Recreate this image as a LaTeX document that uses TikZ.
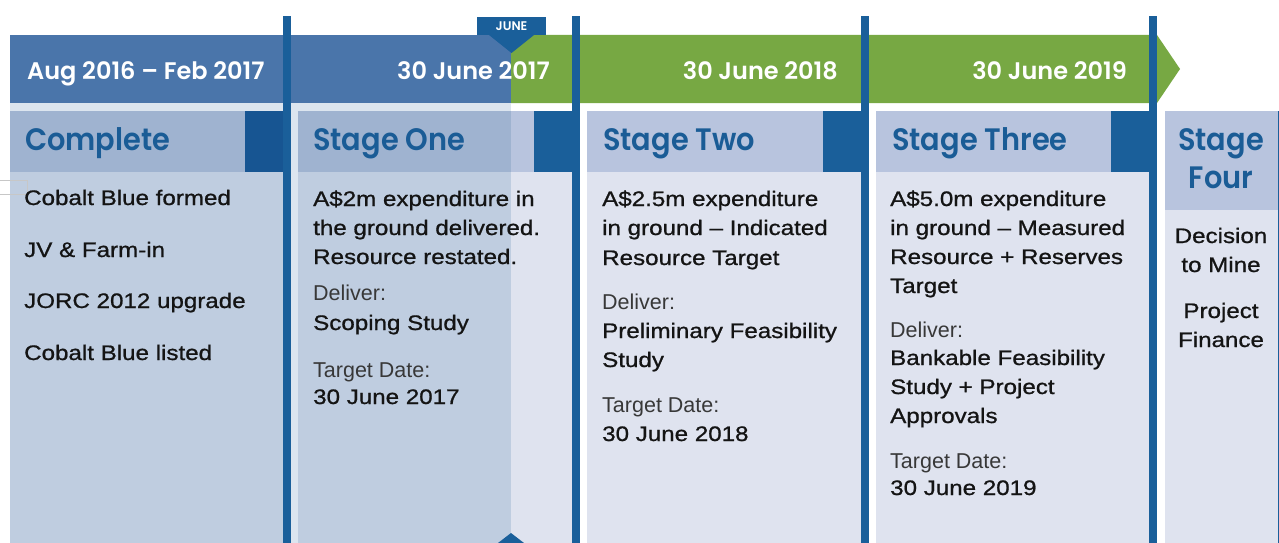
\documentclass[tikz,border=0pt]{standalone}
\usepackage{fontspec}
\setmainfont{Liberation Sans}
\newfontfamily\bodyfont{Liberation Sans}[FakeStretch=1.15,FakeBold=0.9]
\newfontfamily\lightfont{Liberation Sans}
\newfontfamily\poppinsfam{Poppins}[FakeStretch=0.93]
\newfontfamily\poppinsban{Poppins}
\IfFontExistsTF{Poppins SemiBold}{\newfontfamily\headfont{Poppins SemiBold}[FakeStretch=0.93]\newfontfamily\banfont{Poppins SemiBold}}{\newcommand\headfont{\poppinsfam\bfseries}\newcommand\banfont{\poppinsban\bfseries}}
\definecolor{bannerblue}{HTML}{4A75AA}
\definecolor{bannergreen}{HTML}{77A843}
\definecolor{dkblue}{HTML}{1A5F9A}
\definecolor{dkblueov}{HTML}{175592}
\definecolor{hdr}{HTML}{B8C4DE}
\definecolor{hdrov}{HTML}{9FB3D0}
\definecolor{bdy}{HTML}{DFE3EF}
\definecolor{bdyov}{HTML}{BFCDE0}
\definecolor{ovl}{HTML}{DCE5EF}
\definecolor{titleblue}{HTML}{1A5C96}
\begin{document}
\begin{tikzpicture}[x=1pt,y=-1pt,
  txt/.style={inner sep=0pt, anchor=base west},
  bodytxt/.style={txt, font=\bodyfont\fontsize{21}{21}\selectfont, text=black!92},
  lighttxt/.style={txt, font=\lightfont\fontsize{21.5}{21.5}\selectfont, text=black!78},
  centertxt/.style={bodytxt, anchor=base},
  titletxt/.style={txt, font=\headfont\fontsize{31}{31}\selectfont, text=titleblue},
  smalltitle/.style={titletxt, anchor=base},
  bantxt/.style={inner sep=0pt, anchor=base east, font=\banfont\fontsize{24}{24}\selectfont, text=white},
  marker/.style={fill=dkblue}
]
\useasboundingbox (0,0) rectangle (1279,543);
\fill[white] (0,0) rectangle (1279,543);

% overlay background (completed period)
\fill[ovl] (10,103) rectangle (511,543);
% Complete panel
\fill[hdrov] (10,111) rectangle (245,172);
\fill[dkblueov] (245,111) rectangle (283,172);
\fill[bdyov] (10,172) rectangle (283,543);
% Stage One panel
\fill[hdrov] (298,111) rectangle (511,172);
\fill[hdr] (511,111) rectangle (534,172);
\fill[dkblue] (534,111) rectangle (572,172);
\fill[bdyov] (298,172) rectangle (511,543);
\fill[bdy] (511,172) rectangle (572,543);
% Stage Two panel
\fill[hdr] (587,111) rectangle (823,172);
\fill[dkblue] (823,111) rectangle (861,172);
\fill[bdy] (587,172) rectangle (861,543);
% Stage Three panel
\fill[hdr] (876,111) rectangle (1111,172);
\fill[dkblue] (1111,111) rectangle (1149,172);
\fill[bdy] (876,172) rectangle (1149,543);
% Stage Four panel
\fill[hdr] (1165,111) rectangle (1279,210);
\fill[bdy] (1165,210) rectangle (1279,543);
\fill[dkblue] (1277.8,111) rectangle (1279,543);

% banner
\fill[bannerblue] (10,35) rectangle (511,103);
\fill[bannergreen] (511,35) -- (1157,35) -- (1180,69) -- (1157,103) -- (511,103) -- cycle;

% vertical divider lines
\foreach \x in {283,572,861,1149} \fill[dkblue] (\x,16) rectangle ++(8,527);

% JUNE tab and markers
\fill[marker] (477,17) rectangle (546,35);
\fill[marker] (489,35) -- (534,35) -- (511.5,53) -- cycle;
\node[font=\banfont\fontsize{12.5}{12.5}\selectfont, text=white, inner sep=0pt, anchor=base] (june) at (511.5,31) {JUNE};
\fill[marker] (498,543) -- (511,533) -- (524,543) -- cycle;

% stray outline at left
\draw[black!22, line width=1pt] (-1,180.5) -- (27.5,180.5) -- (27.5,194.5) -- (-1,194.5);

% banner texts
\node[bantxt, anchor=base west] (b0) at (27,80) {Aug 2016 – Feb 2017};
\node[bantxt] (b1) at (550,80) {30 June 2017};
\node[bantxt] (b2) at (838,80) {30 June 2018};
\node[bantxt] (b3) at (1127,80) {30 June 2019};

% titles
\node[titletxt] (t0) at (25,150) {Complete};
\node[titletxt] (t1) at (313,150) {Stage One};
\node[titletxt] (t2) at (603,150) {Stage Two};
\node[titletxt] (t3) at (892,150) {Stage Three};
\node[smalltitle] (t4a) at (1221,150) {Stage};
\node[smalltitle] (t4b) at (1221,188) {Four};

% Complete
\node[bodytxt] (c1) at (24,205) {Cobalt Blue formed};
\node[bodytxt] (c2) at (24,257) {JV \& Farm-in};
\node[bodytxt] (c3) at (24,308) {JORC 2012 upgrade};
\node[bodytxt] (c4) at (24,360) {Cobalt Blue listed};

% Stage One
\node[bodytxt] (s1a) at (313,206) {A\$2m expenditure in};
\node[bodytxt] (s1b) at (313,235) {the ground delivered.};
\node[bodytxt] (s1c) at (313,264) {Resource restated.};
\node[lighttxt] (s1d) at (313,300) {Deliver:};
\node[bodytxt] (s1e) at (313,330) {Scoping Study};
\node[lighttxt] (s1f) at (313,377) {Target Date:};
\node[bodytxt] (s1g) at (313,404) {30 June 2017};

% Stage Two
\node[bodytxt] (s2a) at (602,206) {A\$2.5m expenditure};
\node[bodytxt] (s2b) at (602,235) {in ground – Indicated};
\node[bodytxt] (s2c) at (602,265) {Resource Target};
\node[lighttxt] (s2d) at (602,309) {Deliver:};
\node[bodytxt] (s2e) at (602,338) {Preliminary Feasibility};
\node[bodytxt] (s2f) at (602,367) {Study};
\node[lighttxt] (s2g) at (602,412) {Target Date:};
\node[bodytxt] (s2h) at (602,441) {30 June 2018};

% Stage Three
\node[bodytxt] (s3a) at (890,206) {A\$5.0m expenditure};
\node[bodytxt] (s3b) at (890,235) {in ground – Measured};
\node[bodytxt] (s3c) at (890,264) {Resource + Reserves};
\node[bodytxt] (s3d) at (890,293) {Target};
\node[lighttxt] (s3e) at (890,337) {Deliver:};
\node[bodytxt] (s3f) at (890,365) {Bankable Feasibility};
\node[bodytxt] (s3g) at (890,394) {Study + Project};
\node[bodytxt] (s3h) at (890,423) {Approvals};
\node[lighttxt] (s3i) at (890,468) {Target Date:};
\node[bodytxt] (s3j) at (890,495) {30 June 2019};

% Stage Four
\node[centertxt] (s4a) at (1221,243) {Decision};
\node[centertxt] (s4b) at (1221,272) {to Mine};
\node[centertxt] (s4c) at (1221,318) {Project};
\node[centertxt] (s4d) at (1221,347) {Finance};
\end{tikzpicture}
\end{document}
